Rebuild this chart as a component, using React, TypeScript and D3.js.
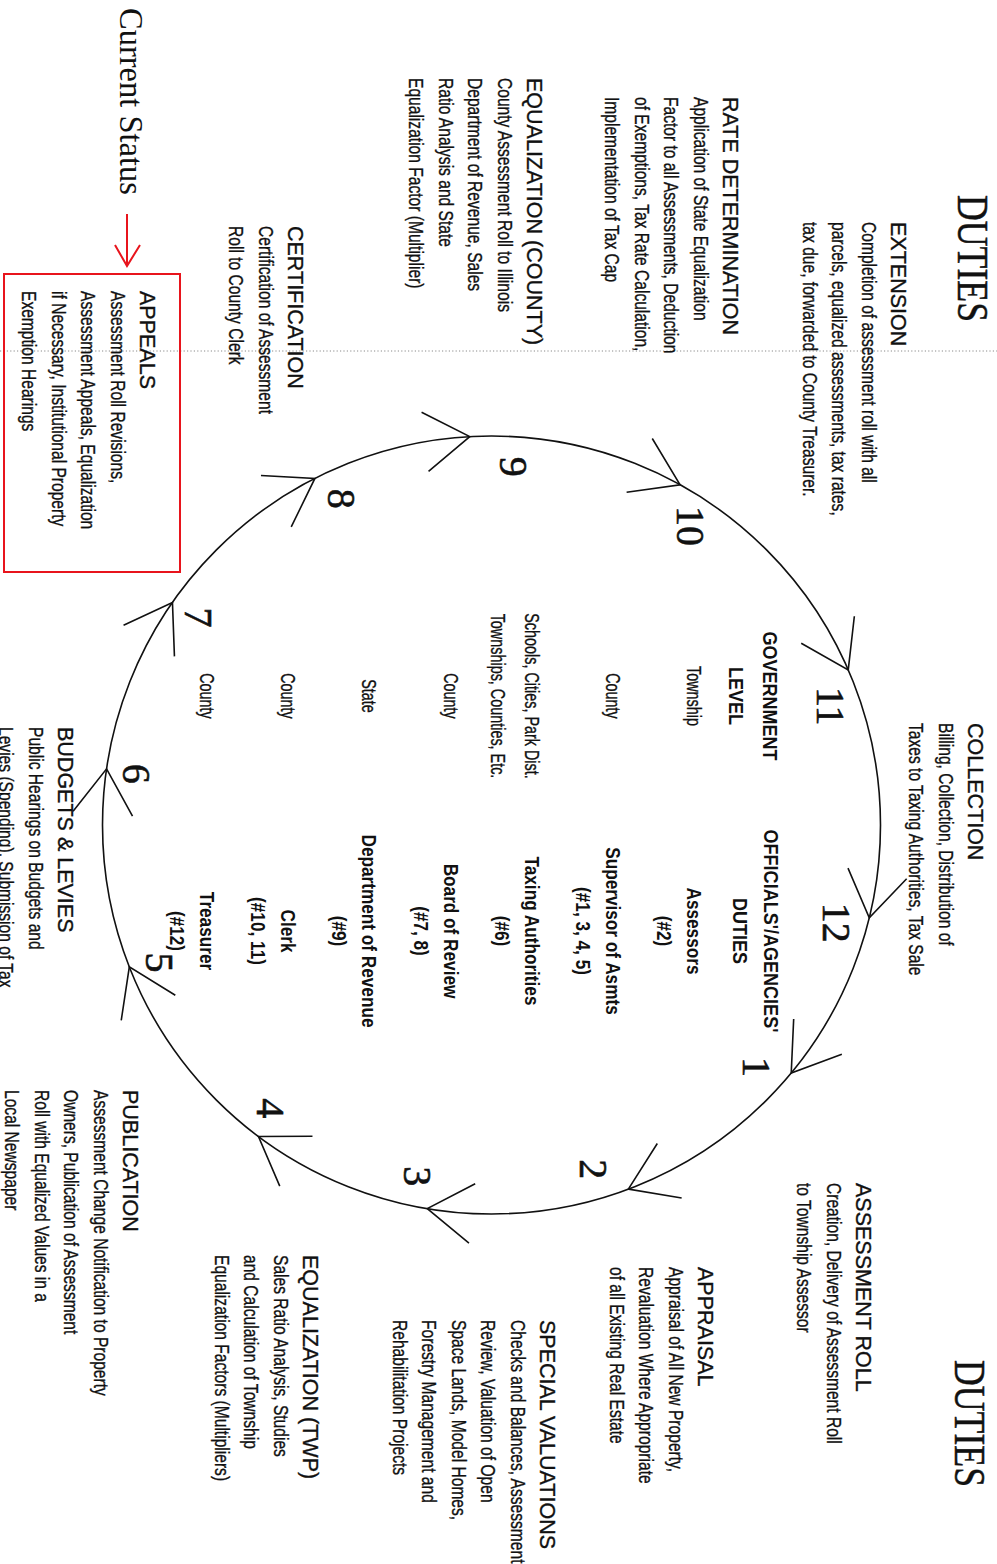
import React from 'react';
import * as d3 from 'd3';

const W = 997;
const H = 1564;

// ---- Cycle of steps (numbers around the circle) ----
const stepNumbers = ['1', '2', '3', '4', '5', '6', '7', '8', '9', '10', '11', '12'];
// angular position of each step's arrow on the cycle (degrees, screen clockwise from +x)
const stepAngles = [39.6, 69.4, 99.5, 126.8, 158.6, 188.3, 214.9, 243.0, 266.8, 299.0, 336.5, 13.8];
const labelAngles = [42.4, 73.5, 101.9, 127.9, 157.5, 188.2, 215.3, 245.3, 273.5, 303.6, 340.7, 15.8];

// ---- Duties around the cycle ----
const dutyTitles = [
  'EXTENSION',
  'RATE DETERMINATION',
  'EQUALIZATION (COUNTY)',
  'CERTIFICATION',
  'APPEALS',
  'COLLECTION',
  'ASSESSMENT ROLL',
  'APPRAISAL',
  'SPECIAL VALUATIONS',
  'EQUALIZATION (TWP)',
  'PUBLICATION',
  'BUDGETS & LEVIES',
];
const dutyLines = [
  ['Completion of assessment roll with all', 'parcels, equalized assessments, tax rates,', 'tax due, forwarded to County Treasurer.'],
  ['Application of State Equalization', 'Factor to all Assessments, Deduction', 'of Exemptions, Tax Rate Calculation,', 'Implementation of Tax Cap'],
  ['County Assessment Roll to Illinois', 'Department of Revenue, Sales', 'Ratio Analysis and State', 'Equalization Factor (Multiplier)'],
  ['Certification of Assessment', 'Roll to County Clerk'],
  ['Assessment Roll Revisions,', 'Assessment Appeals, Equalization', 'if Necessary, Institutional Property', 'Exemption Hearings'],
  ['Billing, Collection, Distribution of', 'Taxes to Taxing Authorities, Tax Sale'],
  ['Creation, Delivery of Assessment Roll', 'to Township Assessor'],
  ['Appraisal of All New Property,', 'Revaluation Where Appropriate', 'of all Existing Real Estate'],
  ['Checks and Balances, Assessment', 'Review, Valuation of Open', 'Space Lands, Model Homes,', 'Forestry Management and', 'Rehabilitation Projects'],
  ['Sales Ratio Analysis, Studies', 'and Calculation of Township', 'Equalization Factors (Multipliers)'],
  ['Assessment Change Notification to Property', 'Owners, Publication of Assessment', 'Roll with Equalized Values in a', 'Local Newspaper'],
  ['Public Hearings on Budgets and', 'Levies (Spending), Submission of Tax'],
];
// layout: [baseline x of title, top y of block]
const dutyAnchors: [number, number][] = [
  [891, 222], [723, 97], [527, 78], [288, 226], [140, 291],
  [968, 723], [856, 1183], [698, 1267], [540, 1320], [303, 1255], [123, 1090], [58, 727],
];

// ---- Center table ----
const levelHeader = ['GOVERNMENT', 'LEVEL'];
const officialHeader = ["OFFICIALS'/AGENCIES'", 'DUTIES'];
const govLevels = [
  ['Township'],
  ['County'],
  ['Schools, Cities, Park Dist.', 'Townships, Counties, Etc.'],
  ['County'],
  ['State'],
  ['County'],
  ['County'],
];
const officials = ['Assessors', 'Supervisor of Asmts', 'Taxing Authorities', 'Board of Review', 'Department of Revenue', 'Clerk', 'Treasurer'];
const officialSteps = ['(#2)', '(#1, 3, 4, 5)', '(#6)', '(#7, 8)', '(#9)', '(#10, 11)', '(#12)'];

const pageTitle = 'DUTIES';
const statusLabel = 'Current Status';

const SANS = "'Liberation Sans', Arial, sans-serif";
const SERIF = "'Liberation Serif', 'Times New Roman', serif";
const INK = '#111';

type RTProps = {
  x: number; y: number; lines: string[]; size: number; gap?: number;
  weight?: string; family?: string; sx?: number; anchor?: string; fill?: string; textLength?: number; halo?: number;
};

function RotText({ x, y, lines, size, gap = 29.5, weight = 'normal', family = SANS, sx = 1, anchor = 'start', fill = INK, textLength, halo = 0 }: RTProps) {
  return (
    <text
      transform={`translate(${x},${y}) rotate(90) scale(${sx},1)`}
      fontSize={size}
      fontFamily={family}
      fontWeight={weight}
      textAnchor={anchor}
      fill={fill}
      stroke={halo ? fill : 'none'}
      strokeWidth={halo}
    >
      {lines.map((l, i) => (
        <tspan key={i} x={0} y={i * gap} {...(textLength ? { textLength, lengthAdjust: 'spacingAndGlyphs' } : {})}>
          {l}
        </tspan>
      ))}
    </text>
  );
}

export default function App() {
  const cx = 491.5;
  const cy = 825;
  const R = 389;
  const toRad = (deg: number) => (deg * Math.PI) / 180;
  // d3.pointRadial measures from 12 o'clock clockwise -> add 90deg to screen angle
  const polar = (deg: number, r: number): [number, number] => {
    const [px, py] = d3.pointRadial(toRad(deg + 90), r);
    return [cx + px, cy + py];
  };

  const armLen = 54;
  const arrowLine = d3.line<[number, number]>();
  const arrows = stepAngles.map((a) => {
    const v = polar(a, R);
    const back = a - 90; // backward tangent direction (screen degrees)
    const d1 = toRad(back - 37);
    const d2 = toRad(back + 30);
    const p1: [number, number] = [v[0] + armLen * Math.cos(d1), v[1] + armLen * Math.sin(d1)];
    const p2: [number, number] = [v[0] + armLen * Math.cos(d2), v[1] + armLen * Math.sin(d2)];
    return arrowLine([p1, v, p2]) as string;
  });

  const labelR = 359;

  const rowY = d3.scalePoint<string>().domain(officials).range([687, 200]);
  const col1Y = 696;
  const col2Y = 931;
  const lineGap = 29.5;

  return (
    <svg
      width={W}
      height={H}
      viewBox={`0 0 ${W} ${H}`}
      style={{ position: 'absolute', left: 0, top: 0, background: '#fff', overflow: 'hidden' }}
    >
      <rect x={0} y={0} width={W} height={H} fill="#fff" />

      {/* fold line */}
      <line x1={0} x2={W} y1={351} y2={351} stroke="#8a8a8a" strokeWidth={1} strokeDasharray="1.2 2.2" />

      {/* cycle */}
      <circle cx={cx} cy={cy} r={R} fill="none" stroke={INK} strokeWidth={1.6} />
      {arrows.map((d, i) => (
        <path key={'a' + i} d={d} fill="none" stroke={INK} strokeWidth={1.6} strokeLinejoin="miter" />
      ))}
      {stepNumbers.map((n, i) => {
        const [lx, ly] = polar(labelAngles[i], labelR);
        return (
          <text
            key={'n' + i}
            transform={`translate(${lx},${ly}) rotate(90)`}
            fontSize={40}
            fontFamily={SERIF}
            textAnchor="middle"
            dominantBaseline="central"
            fill={INK}
            stroke={INK}
            strokeWidth={0.6}
          >
            {n}
          </text>
        );
      })}

      {/* page titles */}
      <RotText x={958} y={195} lines={[pageTitle]} size={44} family={SERIF} textLength={127} halo={0.5} />
      <RotText x={955} y={1360} lines={[pageTitle]} size={44} family={SERIF} textLength={127} halo={0.5} />

      {/* duties */}
      {dutyTitles.map((t, i) => {
        const [bx, by] = dutyAnchors[i];
        return (
          <g key={'d' + i}>
            <RotText x={bx} y={by} lines={[t]} size={21.5} halo={0.35} />
            <RotText x={bx - lineGap} y={by} lines={dutyLines[i]} size={20} gap={lineGap} sx={0.78} halo={0.35} />
          </g>
        );
      })}

      {/* center headers */}
      <RotText x={763} y={col1Y} lines={levelHeader} size={20.5} weight="bold" sx={0.88} anchor="middle" gap={34} />
      <RotText x={764} y={col2Y} lines={officialHeader} size={20.5} weight="bold" sx={0.88} anchor="middle" gap={31} />

      {/* center table */}
      {officials.map((o, i) => {
        const bx = rowY(o) as number;
        return (
          <g key={'r' + i}>
            <RotText x={bx} y={col1Y} lines={govLevels[i]} size={20} sx={0.72} anchor="middle" gap={34} halo={0.35} />
            <RotText x={bx} y={col2Y} lines={[o, officialSteps[i]]} size={20} weight="bold" sx={0.86} anchor="middle" gap={30} />
          </g>
        );
      })}

      {/* current status callout */}
      <RotText x={120} y={8} lines={[statusLabel]} size={34} family={SERIF} textLength={187} />
      <g stroke="#e8141c" strokeWidth={2} fill="none">
        <line x1={127} y1={214} x2={127} y2={266} />
        <path d={arrowLine([[115, 245], [127, 266], [140, 245]]) as string} />
        <rect x={4} y={274} width={176} height={298} />
      </g>
    </svg>
  );
}
